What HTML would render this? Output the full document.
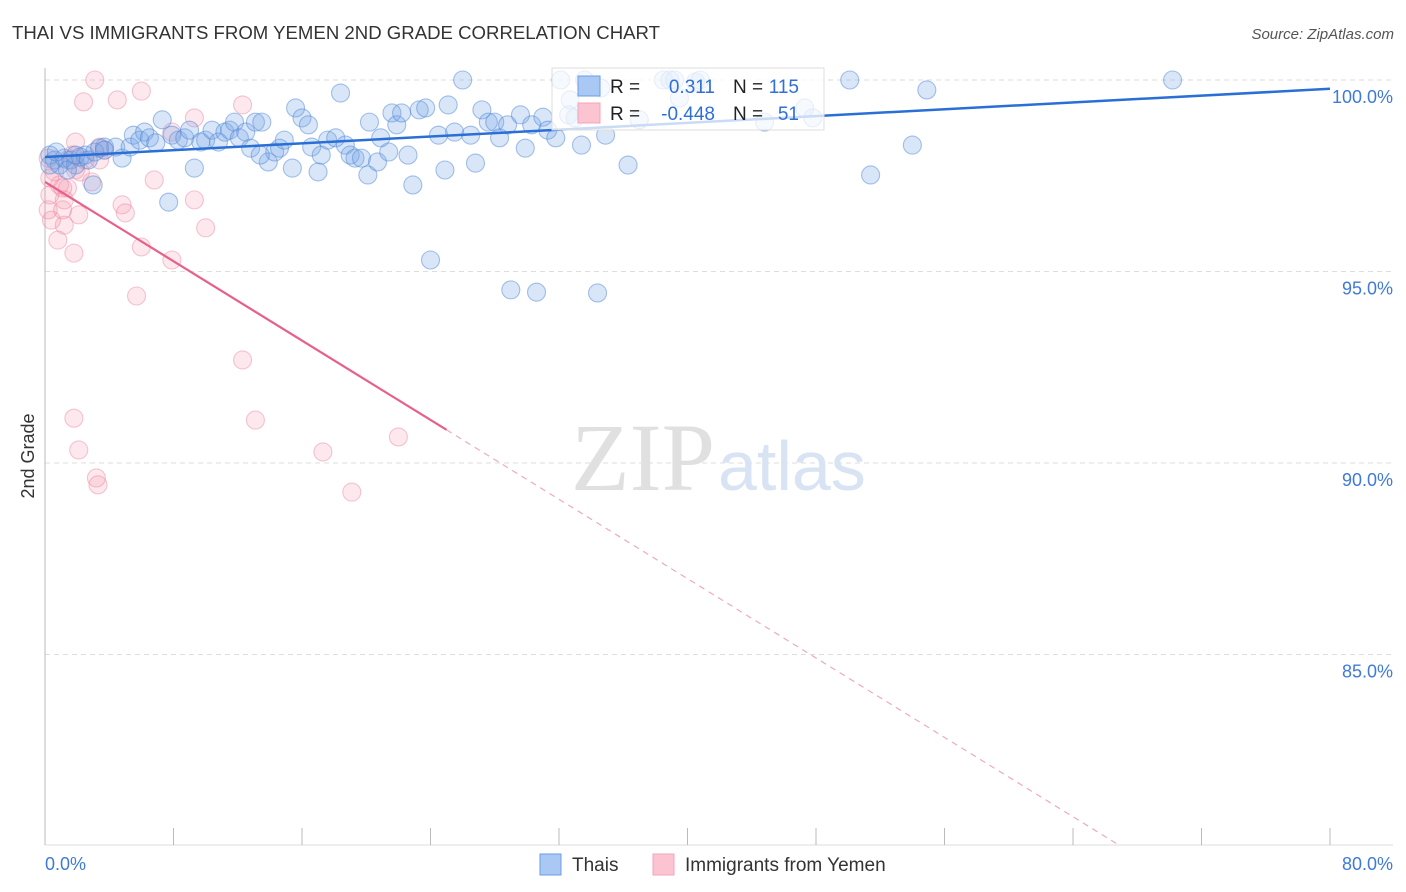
<!DOCTYPE html>
<html><head><meta charset="utf-8"><style>
body{margin:0;background:#fff;font-family:"Liberation Sans",sans-serif}
#c{position:absolute;left:0;top:0}
</style></head><body>
<svg id="c" width="1406" height="892">
<text x="12" y="39" font-size="18" fill="#333" textLength="648" lengthAdjust="spacingAndGlyphs">THAI VS IMMIGRANTS FROM YEMEN 2ND GRADE CORRELATION CHART</text>
<text x="1394" y="39" font-size="15" fill="#555" text-anchor="end" font-style="italic">Source: ZipAtlas.com</text>
<g id="grid"></g>
<text x="715" y="490" font-size="96" font-family="Liberation Serif,serif" fill="#e0e0e0" text-anchor="end">ZIP</text>
<text x="718" y="490" font-size="70" fill="#d8e4f4">atlas</text>
<g id="pts"></g>
<g id="lines"></g>
<text transform="translate(34,456) rotate(-90)" font-size="18" fill="#333" text-anchor="middle">2nd Grade</text>
<g>
<rect x="552" y="68" width="272" height="62" fill="#fff" fill-opacity="0.75" stroke="#ddd"/>
<rect x="578" y="76" width="22" height="20" fill="#a9c8f3" stroke="#6a9ee6"/>
<rect x="578" y="103" width="22" height="20" fill="#fcc3d1" stroke="#f2a5ba"/>
<text x="610" y="93" font-size="19" fill="#222">R =</text>
<text x="715" y="93" font-size="19" fill="#2f6fd6" text-anchor="end">0.311</text>
<text x="733" y="93" font-size="19" fill="#222">N =</text>
<text x="799" y="93" font-size="19" fill="#2f6fd6" text-anchor="end">115</text>
<text x="610" y="120" font-size="19" fill="#222">R =</text>
<text x="715" y="120" font-size="19" fill="#2f6fd6" text-anchor="end">-0.448</text>
<text x="733" y="120" font-size="19" fill="#222">N =</text>
<text x="799" y="120" font-size="19" fill="#2f6fd6" text-anchor="end">51</text>
</g>
<g>
<rect x="540" y="854" width="21" height="21" fill="#a9c8f3" stroke="#6a9ee6"/>
<text x="572" y="871" font-size="19" fill="#333">Thais</text>
<rect x="653" y="854" width="21" height="21" fill="#fcc3d1" stroke="#f2a5ba"/>
<text x="685" y="871" font-size="19" fill="#333">Immigrants from Yemen</text>
</g>
</svg>
<script>
const yTicks=[100,95,90,85];
const yTickLabels=["100.0%","95.0%","90.0%","85.0%"];
const xTicks=[0,8,16,24,32,40,48,56,64,72,80];
const blueX=[0.3,0.6,0.9,1.2,1.6,1.9,2.2,2.5,3.0,3.4,3.7,4.4,4.8,5.3,5.5,5.9,6.2,6.5,6.9,7.3,7.7,7.9,8.3,8.7,9.0,9.3,9.7,10.0,10.4,10.8,11.2,11.5,11.8,12.1,12.5,12.8,13.1,13.5,13.9,14.3,14.6,14.9,15.4,15.6,16.0,16.4,16.6,17.0,17.2,17.6,18.1,18.4,18.7,19.0,19.3,19.7,20.1,20.2,20.7,20.9,21.4,21.6,21.9,22.2,22.6,22.9,23.3,23.7,24.5,24.9,25.1,25.5,26.0,26.5,26.8,27.2,27.6,28.0,28.3,28.8,29.0,29.6,29.9,30.3,30.6,31.0,31.3,31.8,32.1,32.6,33.0,33.4,34.4,34.9,36.3,37.0,38.9,39.5,40.5,40.8,47.3,47.8,50.1,51.4,54.0,54.9,70.2,0.3,0.7,1.4,1.9,2.7,3.1,3.7,13.4,24.0,33.6,34.6,32.7,38.5,39.2,44.8];
const blueY=[98.04,97.91,97.78,97.96,97.91,97.78,97.99,98.04,97.26,98.22,98.25,98.25,97.96,98.25,98.56,98.43,98.64,98.49,98.36,98.96,96.81,98.56,98.43,98.49,98.69,97.70,98.38,98.43,98.69,98.38,98.64,98.69,98.90,98.49,98.64,98.22,98.90,98.90,97.86,98.12,98.22,98.43,97.70,99.27,99.01,98.83,98.25,97.60,98.04,98.43,98.49,99.66,98.30,98.04,97.96,97.96,97.52,98.90,97.86,98.49,98.12,99.14,98.83,99.14,98.04,97.26,99.22,99.27,98.56,97.65,99.35,98.64,100,98.56,97.83,99.22,98.90,98.90,98.49,98.83,94.52,99.09,98.22,98.83,94.46,99.03,98.69,98.49,100,99.09,99.01,98.30,94.44,98.56,97.78,98.96,100,99.53,99.95,100,99.27,99.01,100,97.52,98.30,99.74,100,97.78,98.12,97.65,98.04,97.91,98.12,98.17,98.04,95.30,100,99.79,99.48,100,100,98.90];
const pinkX=[3.1,2.4,4.5,6.0,12.3,9.3,7.9,1.9,1.7,1.4,3.4,3.7,6.8,9.3,10.0,0.9,0.6,0.3,1.1,1.4,2.9,1.9,2.2,4.8,5.0,2.1,1.2,0.4,0.8,0.2,1.8,6.0,7.9,5.7,12.3,13.1,1.8,2.1,3.2,3.3,17.3,19.1,22.0,1.1,0.2,2.5,1.2,0.3,3.4];
const pinkY=[100,99.43,99.48,99.71,99.35,99.01,98.64,98.38,98.04,97.91,98.25,98.17,97.39,96.87,96.14,97.26,97.60,97.44,97.18,97.18,97.34,97.65,97.60,96.74,96.53,96.48,96.21,96.34,95.82,96.61,95.48,95.64,95.30,94.36,92.69,91.12,91.17,90.34,89.61,89.43,90.29,89.24,90.68,96.61,97.96,97.91,96.87,97.00,97.91];
const blueTrend=[97.99,99.77];
const pinkTrend=[97.34,-0.259];
const NS="http://www.w3.org/2000/svg";
const X0=45,X1=1330,Y0=845;
const sx=v=>X0+(v/80)*(X1-X0);
const sy=v=>80+(100-v)*38.3;
function mk(t,a,p){const e=document.createElementNS(NS,t);for(const k in a)e.setAttribute(k,a[k]);p.appendChild(e);return e;}
const grid=document.getElementById('grid');
yTicks.forEach((t,i)=>{
 const l=mk('line',{x1:X0,x2:1393,y1:sy(t),y2:sy(t),stroke:'#ddd','stroke-dasharray':'5,4'},grid);
 
 
 const tx=mk('text',{x:1393,y:sy(t)+23,'font-size':18,fill:'#3f7ad8','text-anchor':'end'},grid);
 tx.textContent=yTickLabels[i];
 
 
});
mk('line',{x1:X0,x2:X0,y1:68,y2:Y0,stroke:'#bbb'},grid);
mk('line',{x1:X0,x2:1393,y1:Y0,y2:Y0,stroke:'#ddd'},grid);
xTicks.forEach(t=>{
 const l=mk('line',{x1:sx(t),x2:sx(t),y1:828,y2:Y0,stroke:'#bbb'},grid);
 
 
});
const xl0=mk('text',{x:45,y:870,'font-size':18,fill:'#3f7ad8'},grid);xl0.textContent='0.0%';


const xl1=mk('text',{x:1393,y:870,'font-size':18,fill:'#3f7ad8','text-anchor':'end'},grid);xl1.textContent='80.0%';


const pts=document.getElementById('pts');
pinkX.forEach((x,i)=>{
 const c=mk('circle',{cx:sx(x),cy:sy(pinkY[i]),r:9,fill:'rgba(245,150,175,0.22)',stroke:'rgba(236,130,160,0.45)','stroke-width':1.1},pts);
 
 
});
blueX.forEach((x,i)=>{
 const c=mk('circle',{cx:sx(x),cy:sy(blueY[i]),r:9,fill:'rgba(120,165,230,0.28)',stroke:'rgba(80,135,215,0.5)','stroke-width':1.1},pts);
 
 
});
const lines=document.getElementById('lines');
const bl=mk('line',{x1:sx(0),y1:sy(blueTrend[0]),x2:sx(80),y2:sy(blueTrend[1]),stroke:'#2a6fd6','stroke-width':2.5},lines);


const pf=x=>pinkTrend[0]+pinkTrend[1]*x;
const pl=mk('line',{x1:sx(0),y1:sy(pf(0)),x2:sx(25),y2:sy(pf(25)),stroke:'#e8608a','stroke-width':2.2},lines);


const xe=(pinkTrend[0]-80.03)/(-pinkTrend[1]);
const pd=mk('line',{x1:sx(25),y1:sy(pf(25)),x2:sx(xe),y2:sy(pf(xe)),stroke:'#eeaabf','stroke-width':1.2,'stroke-dasharray':'6,5'},lines);


</script>
</body></html>
